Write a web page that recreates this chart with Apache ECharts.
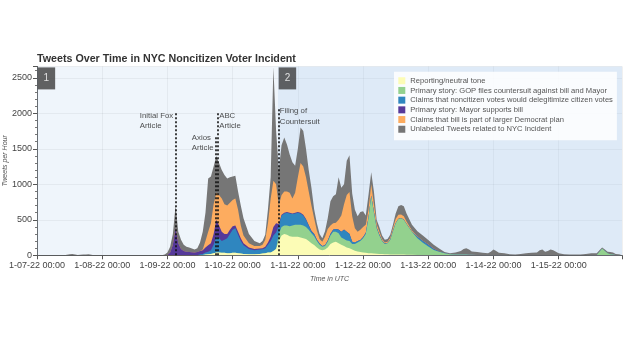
<!DOCTYPE html>
<html><head><meta charset="utf-8">
<script src="https://cdn.jsdelivr.net/npm/echarts@6/dist/echarts.min.js"></script>
<style>html,body{margin:0;padding:0;background:#fff}#chart{width:624px;height:350px}</style>
</head><body><div id="chart"></div>
<script>
// hours since 1-07-22 00:00 UTC
const hours = [0,6,10,11,12,13,14,15,16,17,18,19,20,21,24,30,36,42,46,47,
48,49,50,51,52,53,54,55,56,58,59,
60,61,62,63,64,65,66,67,68,69,70,71,72,73,74,75,76,78,80,82,83,84,85,86,87,88,89,
90,91,92,93,94,95,96,97,98,99,100,101,102,103,104,105,106,107,108,109,
110,111,112,113,114,115,116,117,118,119,120,121,122,123,124,125,126,127,128,129,
130,131,132,133,134,135,136,138,140,142,144,146,148,150,152,154,156,157,158,159,
160,162,164,166,167,168,169,170,172,174,176,178,180,182,184,185,186,187,188,189,
190,191,192,194,196,198,200,202,204,206,207,208,209,210,211,212,213,214,215];

const reporting = [0,0,0,0,0,0,0,0,0,0,0,0,0,0,0,0,0,0,0,0,
0,0,0,0,0,0,0,0,0,0,0,
5,5,10,15,20,30,40,40,35,35,30,30,35,35,30,25,20,15,15,20,25,30,40,40,60,90,200,
280,300,290,270,260,260,260,250,240,230,200,170,145,110,80,70,80,110,160,180,
190,170,150,130,110,100,80,65,55,45,40,35,30,28,25,22,20,18,15,15,
12,12,12,10,10,10,8,6,5,4,3,2,2,1,0,0,0,0,0,0,
0,0,0,0,0,0,0,0,0,0,0,0,0,0,0,0,0,0,0,0,
0,0,0,0,0,0,0,0,0,0,0,0,0,0,0,0,0,0,0];

const gopCountersuit = [0,0,0,0,0,0,0,0,0,0,0,0,0,0,0,0,0,0,0,0,
0,0,0,0,0,0,0,0,0,0,0,
0,0,0,0,0,0,0,0,0,0,0,0,0,0,0,0,0,0,0,0,0,0,0,0,0,5,100,
120,120,130,140,160,170,170,180,180,170,160,140,125,90,70,50,50,80,120,150,
140,140,100,100,100,100,80,95,125,155,200,265,490,802,575,358,260,182,145,155,
203,328,438,500,510,490,432,324,235,171,122,73,48,29,15,10,10,10,10,8,
8,5,5,5,5,5,5,3,3,2,2,2,2,2,2,2,2,2,2,2,
2,2,2,1,1,1,1,2,3,5,50,95,60,30,15,10,5,3,3];

const delegitimize = [0,0,0,0,0,0,0,0,0,0,0,0,0,0,0,0,0,0,0,0,
0,0,0,0,0,0,0,0,0,0,0,
10,15,30,35,50,120,220,200,165,185,210,270,325,345,260,175,120,75,55,60,60,70,110,160,220,225,120,
160,170,180,180,160,160,170,160,140,100,60,30,30,20,15,10,10,15,20,30,
40,50,80,130,120,100,30,20,20,15,15,15,10,10,10,10,10,5,5,2,
3,2,2,2,2,2,2,3,20,25,25,15,5,2,0,0,0,0,0,0,
0,0,0,0,0,0,0,0,0,0,0,0,0,0,0,0,0,0,0,0,
0,0,0,0,0,0,0,0,0,0,0,0,0,0,0,0,0,0,0];

const mayorSupports = [0,0,0,0,0,0,0,0,0,0,0,0,0,0,0,0,0,0,0,0,
5,40,150,380,170,90,60,50,45,40,45,
45,50,70,90,100,150,240,180,130,80,60,60,50,40,40,40,30,20,20,15,15,20,30,60,120,130,20,
10,10,10,10,10,10,10,10,10,10,5,5,5,2,2,2,2,2,2,2,
2,2,2,2,2,2,2,2,2,2,2,2,2,2,2,2,2,2,2,2,
2,2,2,2,2,2,2,1,1,1,1,1,1,1,0,0,0,0,0,0,
0,0,0,0,0,0,0,0,0,0,0,0,0,0,0,0,0,0,0,0,
0,0,0,0,0,0,0,0,0,0,0,0,0,0,0,0,0,0,0];

const democratPlan = [0,0,0,0,0,0,0,0,0,0,0,0,0,0,0,0,0,0,0,0,
0,0,0,0,0,0,0,0,0,0,0,
0,10,90,190,280,420,380,430,470,420,400,380,370,380,310,180,110,60,40,35,50,100,270,540,650,550,260,
280,300,290,280,210,280,490,700,680,590,475,355,215,128,63,58,118,163,118,88,
88,138,228,358,518,588,358,198,128,143,143,113,108,158,108,48,38,23,13,16,
25,36,56,56,51,46,31,16,9,4,4,4,2,1,0,0,0,0,0,0,
0,0,0,0,0,0,0,0,0,0,0,0,0,0,0,0,0,0,0,0,
0,0,0,0,0,0,0,0,0,0,0,0,0,0,0,0,0,0,0];

const unlabeled = [0,0,0,8,15,18,10,5,6,10,12,14,8,0,0,0,0,0,0,10,
35,80,150,320,160,130,90,70,65,40,55,
120,250,400,750,660,530,520,450,400,410,380,360,330,320,260,280,240,130,70,40,50,70,200,300,1600,750,500,
700,760,660,540,510,380,400,500,500,400,300,250,130,100,70,50,80,150,340,380,
400,600,390,280,480,520,320,260,220,250,220,130,210,170,180,60,70,50,40,40,
45,50,80,120,135,140,115,80,70,75,60,55,37,11,15,30,50,80,90,72,
47,40,30,25,45,75,55,32,27,13,10,18,28,33,38,68,78,48,58,78,
68,48,28,14,9,9,11,18,27,25,20,15,20,20,30,30,15,12,12];

const seriesNames = [
  'Reporting/neutral tone',
  'Primary story: GOP files countersuit against bill and Mayor',
  'Claims that noncitizen votes would delegitimize citizen votes',
  'Primary story: Mayor supports bill',
  'Claims that bill is part of larger Democrat plan',
  'Unlabeled Tweets related to NYC Incident'
];
const yTickStep = 500;
const xTickStepHours = 24;
const events = [
  {label: 'Initial Fox\nArticle', hour: 50.9, top: 2008},
  {label: 'Axios\nArticle', hour: 65.9, top: 1690},
  {label: 'ABC\nArticle', hour: 66.5, top: 2008},
  {label: 'Filing of\nCountersuit', hour: 88.8, top: 2070}
];
const phases = [
  {label: '1', start: 0, end: 88.7},
  {label: '2', start: 88.7, end: 215.3}
];

// styles
const colors = ['#fcfcb6', '#93d18e', '#2f86bf', '#56399a', '#fdac5f', '#767676'];
const eventLabelOffsets = [[-35, -2], [-23.7, -2.7], [2, -2], [2, -2]];
const phaseColors = ['rgba(176,206,236,0.2)', 'rgba(176,206,236,0.42)'];
const FONT = '"Liberation Sans", Arial, Helvetica, sans-serif';
const X_MAX = 215.3, Y_MAX = 2660;

const layers = [reporting, gopCountersuit, delegitimize, mayorSupports, democratPlan, unlabeled];
let running = hours.map(() => 0);
const cumulative = layers.map(arr => { running = running.map((s, i) => s + arr[i]); return running; });

const areaSeries = layers.map((_, i) => ({
  name: seriesNames[i],
  type: 'line',
  data: hours.map((h, k) => [h, cumulative[i][k]]),
  symbol: 'none', showSymbol: false,
  lineStyle: {width: 0},
  areaStyle: {color: colors[i], opacity: 1},
  itemStyle: {color: colors[i]},
  silent: true,
  z: 2
})).reverse();

areaSeries[0].markArea = {
  silent: true,
  data: phases.map((p, i) => [{xAxis: p.start, itemStyle: {color: phaseColors[i]}}, {xAxis: p.end}])
};

function fmtDay(h) {
  const d = 7 + h / 24;
  return '1-' + (d < 10 ? '0' + d : d) + '-22 00:00';
}

const chart = echarts.init(document.getElementById('chart'));
chart.setOption({
  animation: false,
  backgroundColor: '#fff',
  textStyle: {fontFamily: FONT},
  title: {
    text: 'Tweets Over Time in NYC Noncitizen Voter Incident',
    left: 37, top: 53.5, padding: 0,
    textStyle: {fontSize: 10.7, fontWeight: 'bold', color: '#333', fontFamily: FONT}
  },
  legend: {
    data: seriesNames,
    orient: 'vertical', left: 394, top: 71.7,
    itemWidth: 7, itemHeight: 7, itemGap: 0, icon: 'rect',
    padding: [4.2, 4, 6.2, 4.3],
    backgroundColor: 'rgba(255,255,255,0.85)',
    selectedMode: false,
    textStyle: {fontSize: 7.6, color: '#555', lineHeight: 9.7, fontFamily: FONT}
  },
  grid: {left: 37, right: 2, top: 66.4, bottom: 94.7, containLabel: false, outerBoundsMode: 'none'},
  xAxis: {
    type: 'value', min: 0, max: X_MAX, interval: xTickStepHours,
    name: 'Time in UTC', nameLocation: 'middle', nameGap: 20, nameMoveOverlap: false,
    nameTextStyle: {fontSize: 7, fontStyle: 'italic', color: '#555', fontFamily: FONT},
    axisLine: {show: true, lineStyle: {color: '#555', width: 1}},
    axisTick: {show: true, length: 4, lineStyle: {color: '#555'}},
    axisLabel: {
      fontSize: 9, color: '#444', margin: 6, fontFamily: FONT, hideOverlap: false,
      formatter: v => (Math.abs(v % xTickStepHours) < 1e-6 ? fmtDay(v) : '')
    },
    splitLine: {show: true, lineStyle: {color: 'rgba(0,0,0,0.06)'}}
  },
  yAxis: {
    type: 'value', min: 0, max: Y_MAX, interval: yTickStep,
    name: 'Tweets per Hour', nameLocation: 'middle', nameGap: 28, nameMoveOverlap: false,
    nameTextStyle: {fontSize: 7, fontStyle: 'italic', color: '#555', fontFamily: FONT},
    axisLine: {show: true, lineStyle: {color: '#555', width: 1}},
    axisTick: {show: true, length: 4, lineStyle: {color: '#555'}},
    minorTick: {show: true, splitNumber: 5, length: 2, lineStyle: {color: '#777'}},
    axisLabel: {
      fontSize: 9, color: '#444', margin: 5, fontFamily: FONT,
      formatter: v => (v % yTickStep === 0 ? String(v) : '')
    },
    splitLine: {show: true, lineStyle: {color: 'rgba(0,0,0,0.06)'}}
  },
  series: areaSeries.concat([
    {
      name: 'events', type: 'scatter', z: 6, clip: false, silent: true,
      symbolSize: 1, itemStyle: {color: 'rgba(0,0,0,0)'},
      data: events.map((e, i) => ({
        value: [e.hour, e.top],
        label: {position: eventLabelOffsets[i]}
      })),
      label: {
        show: true, formatter: p => events[p.dataIndex].label,
        fontSize: 7.8, lineHeight: 10.6, color: '#222', align: 'left', verticalAlign: 'top',
        fontFamily: FONT
      },
      markLine: {
        silent: true, symbol: ['none', 'none'],
        label: {show: false},
        lineStyle: {color: '#111', width: 1.6, type: [2, 2]},
        data: events.map(e => [{coord: [e.hour, 0]}, {coord: [e.hour, e.top]}])
      }
    },
    {
      name: 'phases', type: 'scatter', z: 7, clip: false, silent: true,
      symbol: 'rect', symbolSize: [17.5, 22], symbolOffset: [9.4, 12],
      itemStyle: {color: '#3c3c3c'},
      data: phases.map(p => [p.start, Y_MAX]),
      label: {show: true, position: 'inside', formatter: p => phases[p.dataIndex].label,
        color: '#fff', fontSize: 10, fontFamily: FONT}
    }
  ])
});
</script></body></html>
